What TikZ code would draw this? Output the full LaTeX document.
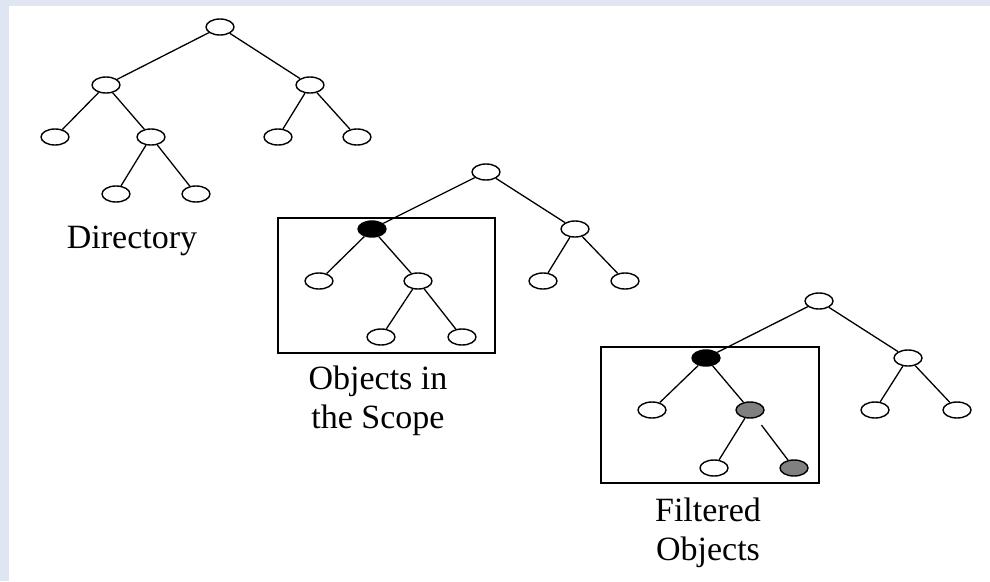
\documentclass[tikz,border=0pt]{standalone}
\usepackage{fontspec}
\setmainfont{Liberation Serif}
\usetikzlibrary{shapes.geometric}
\definecolor{framebg}{HTML}{DFE6F2}
\definecolor{midgray}{HTML}{808080}
\tikzset{
  leaf/.style={ellipse, draw=black, line width=1.4pt, fill=white,
               minimum width=28pt, minimum height=16pt, inner sep=0pt},
  rootsel/.style={leaf, fill=black},
  picked/.style={leaf, fill=midgray},
  edge/.style={draw=black, line width=1.3pt},
  scopebox/.style={draw=black, line width=1.2pt},
  caption/.style={align=center, inner sep=0pt,
                  font=\fontsize{34}{39}\selectfont}
}
\begin{document}
\begin{tikzpicture}[x=1pt, y=-1pt]
  % canvas and frame
  \useasboundingbox (0,0) rectangle (990,581);
  \fill[framebg] (0,0) rectangle (990,581);
  \fill[white] (9,6) rectangle (990,581);

  % ---- directory tree ----
  \node[leaf] (a0) at (220,27) {};
  \node[leaf] (a1) at (106,85) {};
  \node[leaf] (a2) at (310,85) {};
  \node[leaf] (a3) at (55,137) {};
  \node[leaf] (a4) at (151,137) {};
  \node[leaf] (a5) at (278,137) {};
  \node[leaf] (a6) at (357,137) {};
  \node[leaf] (a7) at (116,194) {};
  \node[leaf] (a8) at (196,194) {};
  \draw[edge] (a0) -- (a1);
  \draw[edge] (a0) -- (a2);
  \draw[edge] (a1) -- (a3);
  \draw[edge] (a1) -- (a4);
  \draw[edge] (a4) -- (a7);
  \draw[edge] (a4) -- (a8);
  \draw[edge] (a2) -- (a5);
  \draw[edge] (a2) -- (a6);
  \node[caption] (capA) at (132,241) {Directory};

  % ---- objects in the scope ----
  \node[scopebox, minimum width=217pt, minimum height=135pt, inner sep=0pt]
       (boxB) at (386.5,285.5) {};
  \node[leaf] (b0) at (486,172) {};
  \node[rootsel] (b1) at (372,229) {};
  \node[leaf] (b2) at (575,229) {};
  \node[leaf] (b3) at (319,281) {};
  \node[leaf] (b4) at (418,281) {};
  \node[leaf] (b5) at (543,281) {};
  \node[leaf] (b6) at (625,281) {};
  \node[leaf] (b7) at (381,337) {};
  \node[leaf] (b8) at (462,337) {};
  \draw[edge] (b0) -- (b1);
  \draw[edge] (b0) -- (b2);
  \draw[edge] (b1) -- (b3);
  \draw[edge] (b1) -- (b4);
  \draw[edge] (b4) -- (b7);
  \draw[edge] (b4) -- (b8);
  \draw[edge] (b2) -- (b5);
  \draw[edge] (b2) -- (b6);
  \node[caption] (capB) at (378,401) {Objects in\\the Scope};

  % ---- filtered objects ----
  \node[scopebox, minimum width=218pt, minimum height=136pt, inner sep=0pt]
       (boxC) at (710,415) {};
  \node[leaf] (c0) at (819,301) {};
  \node[rootsel] (c1) at (706,358) {};
  \node[leaf] (c2) at (908,358) {};
  \node[leaf] (c3) at (652,410) {};
  \node[picked] (c4) at (750,410) {};
  \node[leaf] (c5) at (875,410) {};
  \node[leaf] (c6) at (957,410) {};
  \node[leaf] (c7) at (714,468) {};
  \node[picked] (c8) at (794,468) {};
  \draw[edge] (c0) -- (c1);
  \draw[edge] (c0) -- (c2);
  \draw[edge] (c1) -- (c3);
  \draw[edge] (c1) -- (c4);
  \draw[edge] (c4) -- (c7);
  \draw[edge, shorten <=9pt] (c4) -- (c8);
  \draw[edge] (c2) -- (c5);
  \draw[edge] (c2) -- (c6);
  \node[caption] (capC) at (708,533) {Filtered\\Objects};
\end{tikzpicture}
\end{document}
